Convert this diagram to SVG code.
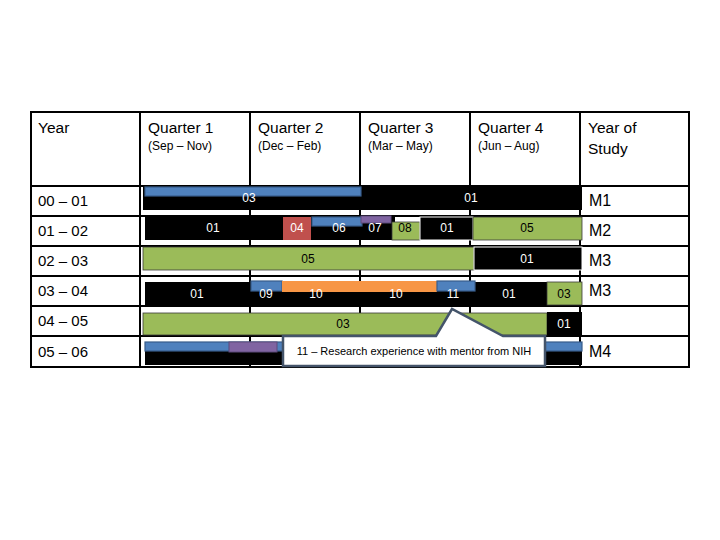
<svg xmlns="http://www.w3.org/2000/svg" width="720" height="540" viewBox="0 0 720 540">
<style>
text{font-family:"Liberation Sans",Arial,sans-serif}
.hd{font-size:15.5px;fill:#000}
.sub{font-size:12px;fill:#000}
.yr{font-size:15px;fill:#000}
.ms{font-size:16px;fill:#000}
.w{font-size:12px;fill:#fff;text-anchor:middle}
.d{font-size:12px;fill:#000;text-anchor:middle}
.grid{stroke:#000;stroke-width:2;fill:none}
.blk{fill:#000}
.blu{fill:#4F81BD;stroke:#385D8A;stroke-width:1.2}
.grn{fill:#9BBB59;stroke:#3a3a3a;stroke-width:0.8}
.red{fill:#C0504D}
.pur{fill:#8064A2;stroke:#5c4a7a;stroke-width:1}
.org{fill:#F79646}
.wb{stroke:#fff;stroke-width:1}
</style>
<rect width="720" height="540" fill="#fff"/>
<g id="grid">
<rect class="grid" x="31" y="112" width="658" height="255"/>
<line class="grid" x1="140" y1="112" x2="140" y2="367"/>
<line class="grid" x1="250" y1="112" x2="250" y2="367"/>
<line class="grid" x1="360" y1="112" x2="360" y2="367"/>
<line class="grid" x1="470" y1="112" x2="470" y2="367"/>
<line class="grid" x1="580" y1="112" x2="580" y2="367"/>
<line class="grid" x1="31" y1="186" x2="689" y2="186"/>
<line class="grid" x1="31" y1="216" x2="689" y2="216"/>
<line class="grid" x1="31" y1="246" x2="689" y2="246"/>
<line class="grid" x1="31" y1="276" x2="689" y2="276"/>
<line class="grid" x1="31" y1="306" x2="689" y2="306"/>
<line class="grid" x1="31" y1="336" x2="689" y2="336"/>
</g>
<g id="header">
<text class="hd" x="38" y="133">Year</text>
<text class="hd" x="148" y="133">Quarter 1</text>
<text class="sub" x="148" y="150">(Sep – Nov)</text>
<text class="hd" x="258" y="133">Quarter 2</text>
<text class="sub" x="258" y="150">(Dec – Feb)</text>
<text class="hd" x="368" y="133">Quarter 3</text>
<text class="sub" x="368" y="150">(Mar – May)</text>
<text class="hd" x="478" y="133">Quarter 4</text>
<text class="sub" x="478" y="150">(Jun – Aug)</text>
<text class="hd" x="588" y="133">Year of</text>
<text class="hd" x="588" y="154">Study</text>
</g>
<g id="rowlabels">
<text class="yr" x="38" y="206">00 – 01</text>
<text class="yr" x="38" y="236">01 – 02</text>
<text class="yr" x="38" y="266">02 – 03</text>
<text class="yr" x="38" y="296">03 – 04</text>
<text class="yr" x="38" y="326">04 – 05</text>
<text class="yr" x="38" y="357">05 – 06</text>
</g>
<g id="study">
<text class="ms" x="589" y="206">M1</text>
<text class="ms" x="589" y="236">M2</text>
<text class="ms" x="589" y="266">M3</text>
<text class="ms" x="589" y="296">M3</text>
<text class="ms" x="589" y="357">M4</text>
</g>
<g id="row1">
<rect class="blk" x="143" y="187" width="439" height="23"/>
<rect class="blu" x="145" y="187" width="216" height="9"/>
<text class="w" x="249" y="202">03</text>
<text class="w" x="471" y="202">01</text>
</g>
<g id="row2">
<rect class="blk" x="145" y="217" width="250" height="23"/>
<text class="w" x="213" y="232">01</text>
<rect class="red" x="283" y="217" width="28" height="23"/>
<text class="w" x="297" y="232">04</text>
<rect class="blu" x="312" y="217" width="50" height="9"/>
<text class="w" x="339" y="232">06</text>
<rect class="pur" x="361" y="216" width="30" height="7"/>
<text class="w" x="375" y="232">07</text>
<rect class="grn" x="392" y="222" width="28" height="18" stroke="none"/>
<text class="d" x="405" y="232">08</text>
<rect class="blk wb" x="420" y="217" width="53" height="23"/>
<text class="w" x="447" y="232">01</text>
<rect class="grn" x="473" y="217" width="109" height="23"/>
<text class="d" x="527" y="232">05</text>
</g>
<g id="row3">
<rect class="grn" x="143" y="247" width="331" height="23"/>
<text class="d" x="308" y="263">05</text>
<rect class="blk wb" x="474" y="247" width="108" height="23"/>
<text class="w" x="527" y="263">01</text>
</g>
<g id="row4">
<rect class="blk" x="145" y="282" width="402" height="23"/>
<text class="w" x="197" y="298">01</text>
<rect class="blu" x="251" y="281" width="31" height="10"/>
<text class="w" x="266" y="298">09</text>
<rect class="org" x="282" y="281" width="155" height="11"/>
<text class="w" x="316" y="298">10</text>
<text class="w" x="396" y="298">10</text>
<rect class="blu" x="437" y="281" width="38" height="10"/>
<text class="w" x="453" y="298">11</text>
<text class="w" x="509" y="298">01</text>
<rect class="grn" x="547" y="282" width="35" height="23"/>
<text class="d" x="564" y="298">03</text>
</g>
<g id="row5">
<rect class="grn" x="143" y="313" width="404" height="22"/>
<text class="d" x="343" y="328">03</text>
<rect class="blk" x="547" y="312" width="35" height="23"/>
<text class="w" x="564" y="328">01</text>
</g>
<g id="row6">
<rect class="blk" x="145" y="342" width="437" height="23"/>
<rect class="blu" x="145" y="342" width="437" height="9"/>
<rect class="pur" x="229" y="342" width="48" height="10"/>
</g>
<g id="callout">
<path d="M283 336 H436 L452 309 L503 336 H545 V366 H283 Z" fill="#fff" stroke="#44546A" stroke-width="2.5" stroke-linejoin="miter"/>
<text x="414" y="355" font-size="11" text-anchor="middle" fill="#000">11 – Research experience with mentor from NIH</text>
</g>
</svg>
